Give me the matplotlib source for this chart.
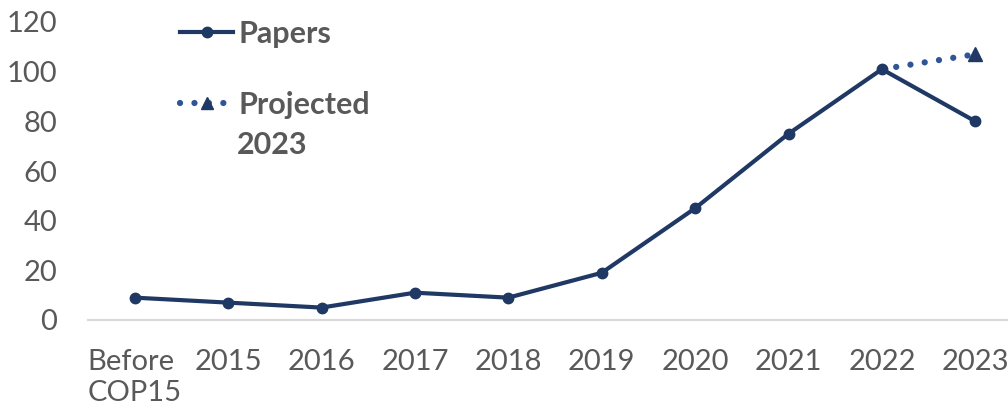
import matplotlib.pyplot as plt
from matplotlib.lines import Line2D

plt.rcParams['font.family'] = ['Lato', 'DejaVu Sans']

categories = ['Before\nCOP15', '2015', '2016', '2017', '2018', '2019', '2020', '2021', '2022', '2023']
papers = [9, 7, 5, 11, 9, 19, 45, 75, 101, 80]
proj_x = ['2022', '2023']
proj_y = [101, 107]

navy = '#1F3864'
blue = '#2F5597'
grey = '#595959'
W, H = 1008, 418

fig = plt.figure(figsize=(W / 100, H / 100), dpi=100)
ax = fig.add_axes([88 / W, 1 - 320 / H, 1 - 88 / W, (320 - 22) / H])

dots = (0, (0.01, 2.3))
xs = list(range(len(categories)))
ax.plot(xs, papers, color=navy, lw=3, marker='o', ms=7.5, label='Papers', zorder=3)
px = [categories.index(c) for c in proj_x]
ax.plot(px, proj_y, color=blue, lw=4.5, ls=dots, dash_capstyle='round',
        marker='^', ms=10, mfc=navy, mec=navy, markevery=[1], zorder=2)

ax.set_xlim(-0.5, 9.35)
ax.set_ylim(0, 120)
ax.set_yticks(range(0, 121, 20))
ax.set_xticks(xs)
ax.set_xticklabels(categories, multialignment='left', va='top', linespacing=1.25)
ax.tick_params(length=0, labelsize=21, labelcolor=grey)
ax.tick_params(axis='y', pad=22)
ax.tick_params(axis='x', pad=21)
for s in ['left', 'right', 'top']:
    ax.spines[s].set_visible(False)
ax.spines['bottom'].set_color('#D9D9D9')
ax.spines['bottom'].set_linewidth(1.5)

handles = [
    Line2D([], [], color=navy, lw=3, marker='o', ms=7.5),
    Line2D([], [], color=blue, lw=4.5, ls=dots, dash_capstyle='round',
           marker='^', ms=9, mfc=navy, mec=navy),
]
leg = fig.legend(handles, ['Papers', 'Projected'], loc='upper left',
                 bbox_to_anchor=(180 / W, 1 - 20 / H), bbox_transform=fig.transFigure,
                 frameon=False, borderpad=0, borderaxespad=0, handlelength=1.75,
                 handletextpad=0.15, labelspacing=1.4,
                 prop={'size': 22, 'weight': 'bold'})
for t in leg.get_texts():
    t.set_color(grey)
fig.text(237 / W, 1 - 145 / H, '2023', fontsize=22, fontweight='bold', color=grey,
         ha='left', va='center')

fig.savefig('out.png', dpi=100)
